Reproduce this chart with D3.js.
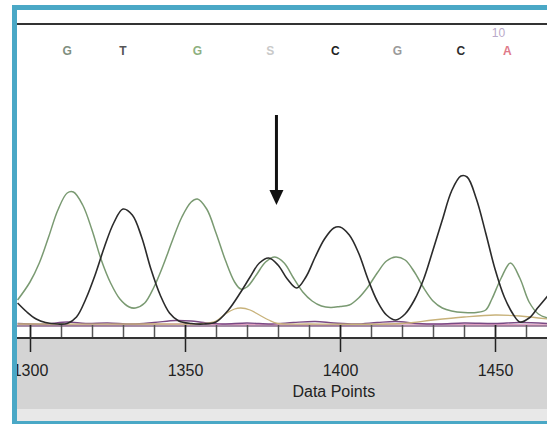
<!DOCTYPE html>
<html>
<head>
<meta charset="utf-8">
<script src="https://cdn.jsdelivr.net/npm/d3@7"></script>
<style>
  html, body { margin: 0; padding: 0; background: #fff; }
  svg { display: block; }
  text { font-family: Arial, "Liberation Sans", sans-serif; }
</style>
</head>
<body>
<div id="chart"></div>
<script>
'use strict';

// ── Data ────────────────────────────────────────────────────────────────────
const majorTicks = [1300, 1350, 1400, 1450];
const minorTicks = [1290, 1300, 1310, 1320, 1330, 1340, 1350, 1360, 1370,
                    1380, 1390, 1400, 1410, 1420, 1430, 1440, 1450, 1460];

const baseLetters   = ['G', 'T', 'G', 'S', 'C', 'G', 'C', 'A'];
const basePositions = [1312, 1330, 1354, 1377.5, 1398.5, 1418.5, 1439, 1454];
const arrowAt = 1379.5;

// [data point, signal]
const greenTrace = [
  [1296,250],[1300,430],[1303,620],[1306,880],[1309,1150],[1312,1320],[1314,1330],
  [1317,1200],[1320,950],[1323,650],[1326,420],[1329,260],[1332,180],[1334,170],
  [1337,220],[1340,380],[1343,600],[1346,850],[1349,1080],[1352,1230],[1354,1260],
  [1357,1160],[1360,920],[1363,650],[1366,430],[1368,360],[1370,380],[1373,500],
  [1376,630],[1379,680],[1382,620],[1385,470],[1388,330],[1391,240],[1394,190],
  [1397,175],[1400,185],[1403,200],[1406,270],[1409,380],[1412,520],[1415,640],
  [1418,680],[1421,650],[1424,530],[1427,370],[1430,240],[1433,170],[1436,140],
  [1440,125],[1444,125],[1447,150],[1449,260],[1452,470],[1455,620],[1458,470],
  [1461,230],[1464,110],[1467,70]
];

const blackTrace = [
  [1296,220],[1299,130],[1302,60],[1305,25],[1309,10],[1312,15],[1315,80],
  [1318,260],[1321,500],[1324,780],[1327,1020],[1330,1160],[1333,1100],[1336,880],
  [1339,560],[1342,300],[1345,120],[1348,40],[1352,15],[1356,10],[1360,30],
  [1364,150],[1368,330],[1371,480],[1374,620],[1377,670],[1380,600],[1383,460],
  [1386,370],[1389,480],[1392,680],[1395,860],[1398,970],[1400,980],[1403,900],
  [1406,720],[1409,460],[1412,240],[1415,100],[1418,50],[1421,110],[1424,250],
  [1427,460],[1430,750],[1433,1050],[1436,1340],[1439,1490],[1441,1480],[1444,1260],
  [1447,920],[1450,560],[1453,280],[1456,100],[1458,30],[1461,70],[1464,180],[1467,290]
];

const tanTrace = [
  [1296,10],[1340,10],[1356,15],[1360,40],[1363,110],[1366,160],[1368,170],
  [1371,150],[1374,100],[1377,50],[1380,15],[1390,10],[1420,15],[1430,50],
  [1440,80],[1450,100],[1458,90],[1467,60]
];

const purpleTrace = [
  [1296,15],[1305,10],[1312,30],[1318,15],[1325,20],[1333,10],[1340,25],[1347,45],
  [1352,40],[1356,25],[1362,10],[1370,20],[1378,10],[1385,25],[1392,35],[1398,20],
  [1405,10],[1412,25],[1418,35],[1425,15],[1432,10],[1440,20],[1450,15],[1458,25],[1467,15]
];

const pinkTrace = [
  [1296,5],[1320,0],[1345,10],[1370,5],[1395,0],[1420,10],[1445,5],[1467,0]
];

// ── Layout / styles ─────────────────────────────────────────────────────────
const W = 547, H = 424;
const FRAME_X = 12, FRAME_Y = 5, FRAME_T = 5;
const INNER_L = FRAME_X + FRAME_T, INNER_T = FRAME_Y + FRAME_T, INNER_B = 421;
const RULE_Y = 24, BASE_Y = 325, AXIS_Y = 338, GRAY_END = 409;

const FRAME_COLOR = '#4aa8c6';
const LETTER_COLORS = ['#7f8f7f', '#555555', '#8db07f', '#c9c9c9', '#222222', '#9a9a9a', '#2e2e2e', '#e07a8a'];

const svg = d3.select('#chart').append('svg')
  .attr('width', W).attr('height', H);

svg.append('rect').attr('width', W).attr('height', H).attr('fill', '#fff');

// Frame
svg.append('rect')
  .attr('x', FRAME_X).attr('y', FRAME_Y)
  .attr('width', W - FRAME_X + 10).attr('height', H - FRAME_Y + 10)
  .attr('fill', FRAME_COLOR);
svg.append('rect')
  .attr('x', INNER_L).attr('y', INNER_T)
  .attr('width', W - INNER_L + 10).attr('height', INNER_B - INNER_T)
  .attr('fill', '#fff');

// Scales
const x = d3.scaleLinear().domain([1300, 1450]).range([30, 495]);
const y = d3.scaleLinear().domain([0, 1500]).range([BASE_Y, 175]);

svg.append('clipPath').attr('id', 'plotclip')
  .append('rect').attr('x', INNER_L).attr('y', INNER_T)
  .attr('width', W - INNER_L).attr('height', INNER_B - INNER_T);

const g = svg.append('g').attr('clip-path', 'url(#plotclip)');

// Gray axis panel
g.append('rect').attr('x', INNER_L).attr('y', AXIS_Y)
  .attr('width', W).attr('height', GRAY_END - AXIS_Y).attr('fill', '#d4d4d4');
g.append('rect').attr('x', INNER_L).attr('y', GRAY_END)
  .attr('width', W).attr('height', INNER_B - GRAY_END).attr('fill', '#e8e8e8');

// Top rule
g.append('line').attr('x1', INNER_L).attr('x2', W)
  .attr('y1', RULE_Y).attr('y2', RULE_Y)
  .attr('stroke', '#333').attr('stroke-width', 2);

// Base calls
g.selectAll('.base').data(baseLetters).enter().append('text')
  .attr('class', 'base')
  .attr('x', (d, i) => x(basePositions[i]))
  .attr('y', 55)
  .attr('text-anchor', 'middle')
  .attr('font-size', 12)
  .attr('font-weight', 'bold')
  .attr('fill', (d, i) => LETTER_COLORS[i])
  .text(d => d);

g.append('text')
  .attr('x', x(basePositions[7]) - 9).attr('y', 37)
  .attr('text-anchor', 'middle')
  .attr('font-size', 12)
  .attr('fill', '#b9a9c9')
  .text('10');

// Arrow
const ax = x(arrowAt);
g.append('line').attr('x1', ax).attr('x2', ax).attr('y1', 115).attr('y2', 195)
  .attr('stroke', '#111').attr('stroke-width', 3);
g.append('path')
  .attr('d', `M${ax - 7},${190} L${ax + 7},${190} L${ax},${205} Z`)
  .attr('fill', '#111');

// Traces
const line = d3.line()
  .x(d => x(d[0]))
  .y(d => y(d[1]))
  .curve(d3.curveCatmullRom.alpha(0.5));

const traces = [
  { data: pinkTrace,   color: '#e2a0c0', w: 1.4 },
  { data: purpleTrace, color: '#7a4a85', w: 1.4 },
  { data: tanTrace,    color: '#c8b27a', w: 1.3 },
  { data: greenTrace,  color: '#7a9a72', w: 1.5 },
  { data: blackTrace,  color: '#2b2b2b', w: 1.6 },
];

traces.forEach(t => {
  g.append('path')
    .datum(t.data)
    .attr('d', line)
    .attr('fill', 'none')
    .attr('stroke', t.color)
    .attr('stroke-width', t.w)
    .attr('stroke-linejoin', 'round');
});

// Axis: tick boxes
g.append('line').attr('x1', INNER_L).attr('x2', W)
  .attr('y1', BASE_Y + 1).attr('y2', BASE_Y + 1)
  .attr('stroke', '#8a6a8a').attr('stroke-width', 1.5);

const minorAxis = d3.axisBottom(x).tickValues(minorTicks).tickSize(AXIS_Y - BASE_Y).tickFormat('');
const minorG = g.append('g').attr('transform', `translate(0,${BASE_Y})`).call(minorAxis);
minorG.select('.domain').remove();
minorG.selectAll('.tick line').attr('stroke', '#555').attr('stroke-width', 1.5);

const majorAxis = d3.axisBottom(x).tickValues(majorTicks).tickSize(27).tickPadding(12)
  .tickFormat(d3.format('d'));
const majorG = g.append('g').attr('transform', `translate(0,${BASE_Y})`).call(majorAxis);
majorG.select('.domain').remove();
majorG.selectAll('.tick line').attr('stroke', '#222').attr('stroke-width', 1.5);
majorG.selectAll('.tick text')
  .attr('font-size', 16)
  .attr('font-family', 'Arial, "Liberation Sans", sans-serif')
  .attr('fill', '#222')
  .attr('y', 51).attr('dy', null);

g.append('line').attr('x1', INNER_L).attr('x2', W)
  .attr('y1', AXIS_Y).attr('y2', AXIS_Y)
  .attr('stroke', '#333').attr('stroke-width', 2);

// Axis title
g.append('text')
  .attr('x', x(1398)).attr('y', 397)
  .attr('text-anchor', 'middle')
  .attr('font-size', 16)
  .attr('fill', '#222')
  .text('Data Points');
</script>
</body>
</html>
